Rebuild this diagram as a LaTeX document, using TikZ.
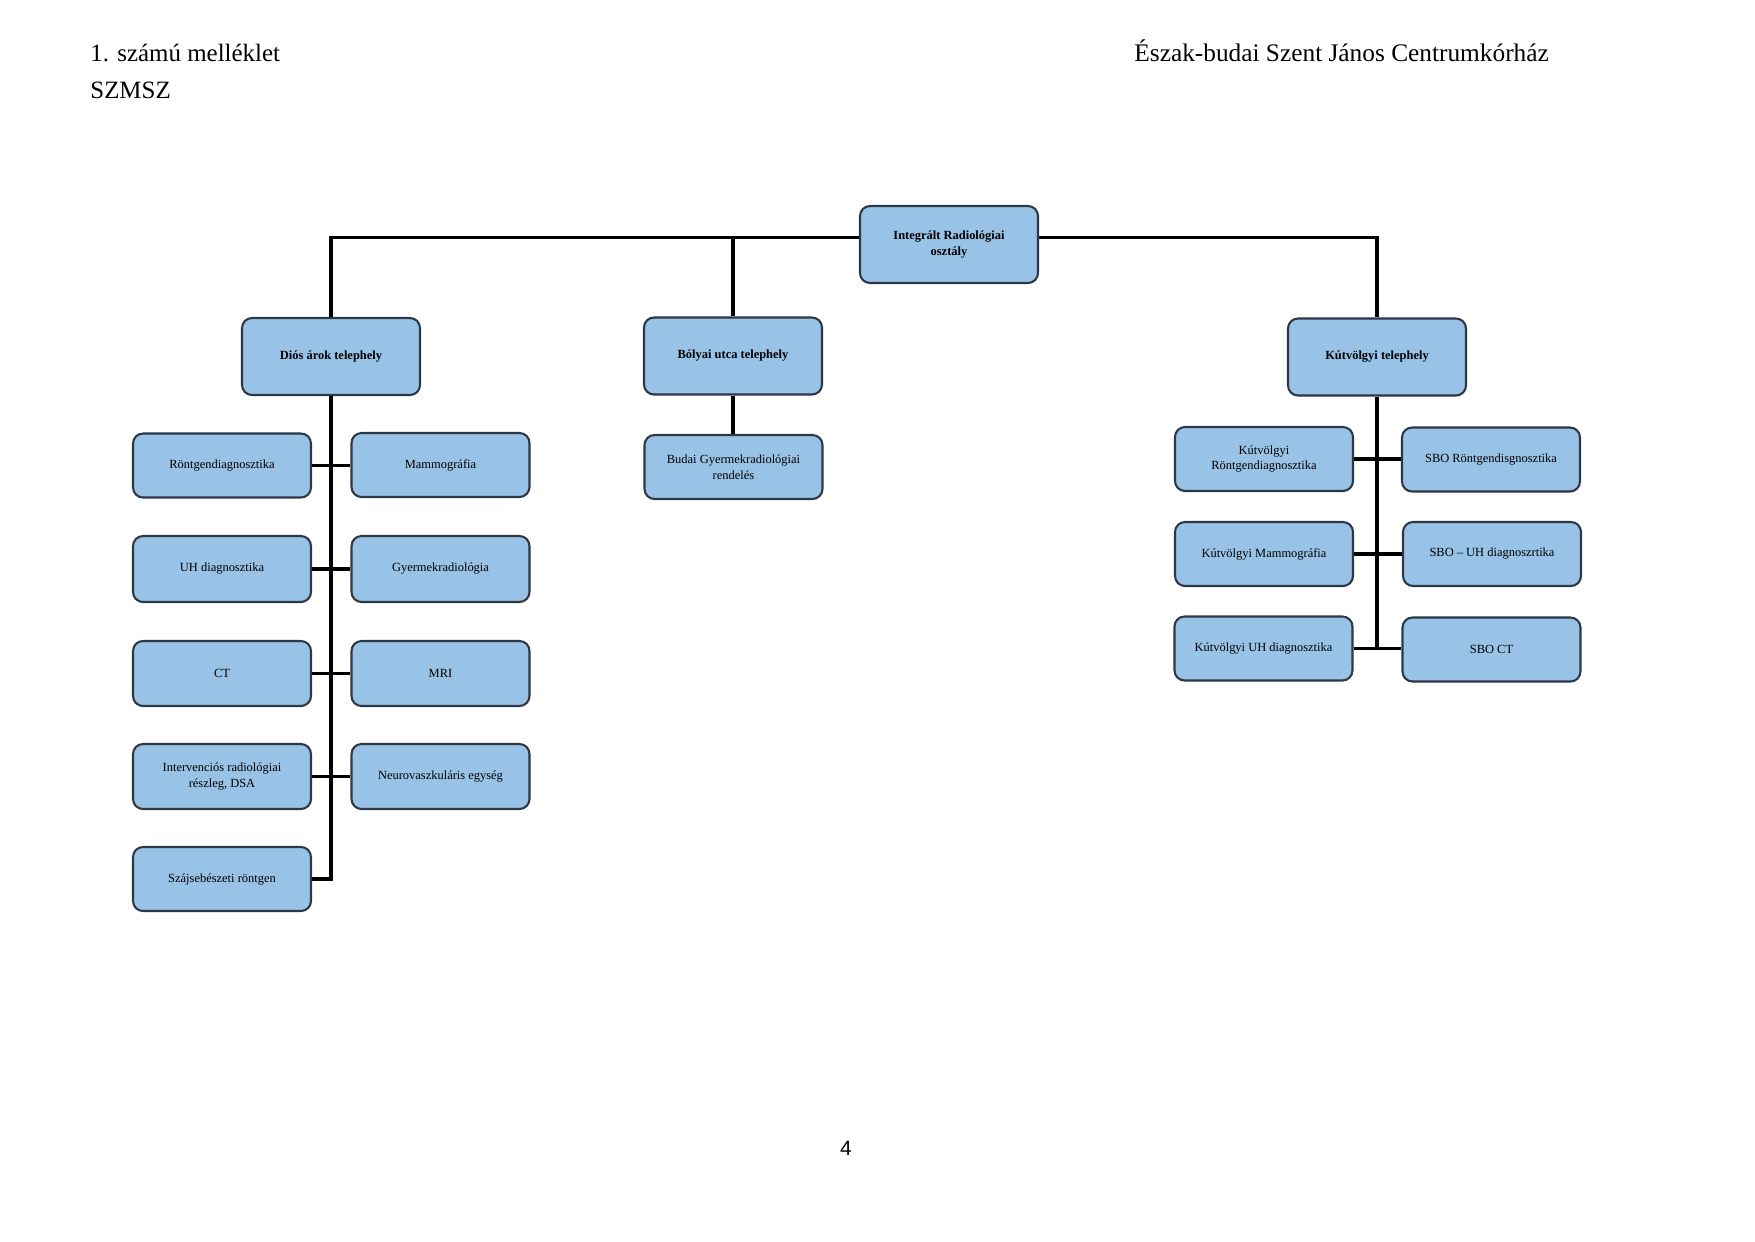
\documentclass[tikz,border=0pt]{standalone}
\usepackage{fontspec}
\setmainfont{Liberation Serif}
\newfontfamily\pagefont{Liberation Sans}
\usetikzlibrary{calc}
\definecolor{boxfill}{RGB}{152,194,230}
\definecolor{boxline}{RGB}{45,55,70}
\tikzset{
  unitbox/.style={draw=boxline, fill=boxfill, line width=1pt, rounded corners=1.7mm,
    minimum width=178*0.16923mm, inner sep=1pt, align=center,
    font=\fontsize{6}{7.6}\selectfont},
  headbox/.style={unitbox, minimum height=77*0.16923mm, font=\fontsize{6}{7.6}\selectfont\bfseries},
  childbox/.style={unitbox, minimum height=64*0.16923mm},
  conn/.style={line width=1.6pt, black},
  hdr/.style={anchor=base west, inner sep=0pt, font=\fontsize{12}{14}\selectfont}
}
\begin{document}
\begin{tikzpicture}[x=0.16923mm, y=-0.16923mm]
\useasboundingbox (0,0) rectangle (1755,1241);
% header texts
\node[hdr] (h1) at (90,61) {1. számú melléklet};
\node[hdr] (h2) at (90,98) {SZMSZ};
\node[hdr, font=\fontsize{12.2}{14}\selectfont] (h3) at (1134,61) {Észak-budai Szent János Centrumkórház};
\node[anchor=base, inner sep=0pt, font=\pagefont\fontsize{10}{12}\selectfont] (pg) at (846,1155) {4};

% level 0 and 1
\node[headbox] (top) at (949,244.5) {Integrált Radiológiai\\osztály};
\node[headbox] (dios) at (331,356.5) {Diós árok telephely};
\node[headbox] (bolyai) at (733,356) {Bólyai utca telephely};
\node[headbox] (kut) at (1377,357) {Kútvölgyi telephely};

% Diós árok children
\node[childbox] (rontgen) at (222,465.5) {Röntgendiagnosztika};
\node[childbox] (mammo) at (440.5,465) {Mammográfia};
\node[childbox, minimum height=66*0.16923mm] (uh) at (222,569) {UH diagnosztika};
\node[childbox, minimum height=66*0.16923mm] (gyermek) at (440.5,569) {Gyermekradiológia};
\node[childbox, minimum height=65*0.16923mm] (ct) at (222,673.5) {CT};
\node[childbox, minimum height=65*0.16923mm] (mri) at (440.5,673.5) {MRI};
\node[childbox, minimum height=65*0.16923mm] (interv) at (222,776.5) {Intervenciós radiológiai\\részleg, DSA};
\node[childbox, minimum height=65*0.16923mm] (neuro) at (440.5,776.5) {Neurovaszkuláris egység};
\node[childbox] (szaj) at (222,879) {Szájsebészeti röntgen};

% Bólyai child
\node[childbox] (budai) at (733.5,467) {Budai Gyermekradiológiai\\rendelés};

% Kútvölgyi children
\node[childbox] (krontgen) at (1264,459) {Kútvölgyi\\Röntgendiagnosztika};
\node[childbox] (sbor) at (1491,459.5) {SBO Röntgendisgnosztika};
\node[childbox] (kmammo) at (1264,554) {Kútvölgyi Mammográfia};
\node[childbox] (sbouh) at (1492,554) {SBO – UH diagnoszrtika};
\node[childbox] (kuh) at (1263.5,648.5) {Kútvölgyi UH diagnosztika};
\node[childbox] (sboct) at (1491.5,649.5) {SBO CT};

% top connectors
\coordinate (tl) at ($(top.west)+(0,-7)$);
\coordinate (tr) at ($(top.east)+(0,-7)$);
\draw[conn] (tl) -| (dios.north);
\draw[conn] (bolyai.north) -- (bolyai.north |- tl);
\draw[conn] (tr) -| (kut.north);

% Diós árok trunk
\draw[conn] (dios.south) |- (szaj.east);
\draw[conn] (rontgen.east) -- (rontgen.east -| mammo.west);
\draw[conn] (uh.east) -- (uh.east -| gyermek.west);
\draw[conn] (ct.east) -- (ct.east -| mri.west);
\draw[conn] (interv.east) -- (interv.east -| neuro.west);

% Bólyai
\draw[conn] (bolyai.south) -- (bolyai.south |- budai.north);

% Kútvölgyi trunk
\draw[conn] (kut.south) |- (kuh.east);
\draw[conn] (krontgen.east) -- (krontgen.east -| sbor.west);
\draw[conn] (kmammo.east) -- (kmammo.east -| sbouh.west);
\draw[conn] (kut.south |- kuh.east) -- (kuh.east -| sboct.west);
\end{tikzpicture}
\end{document}
